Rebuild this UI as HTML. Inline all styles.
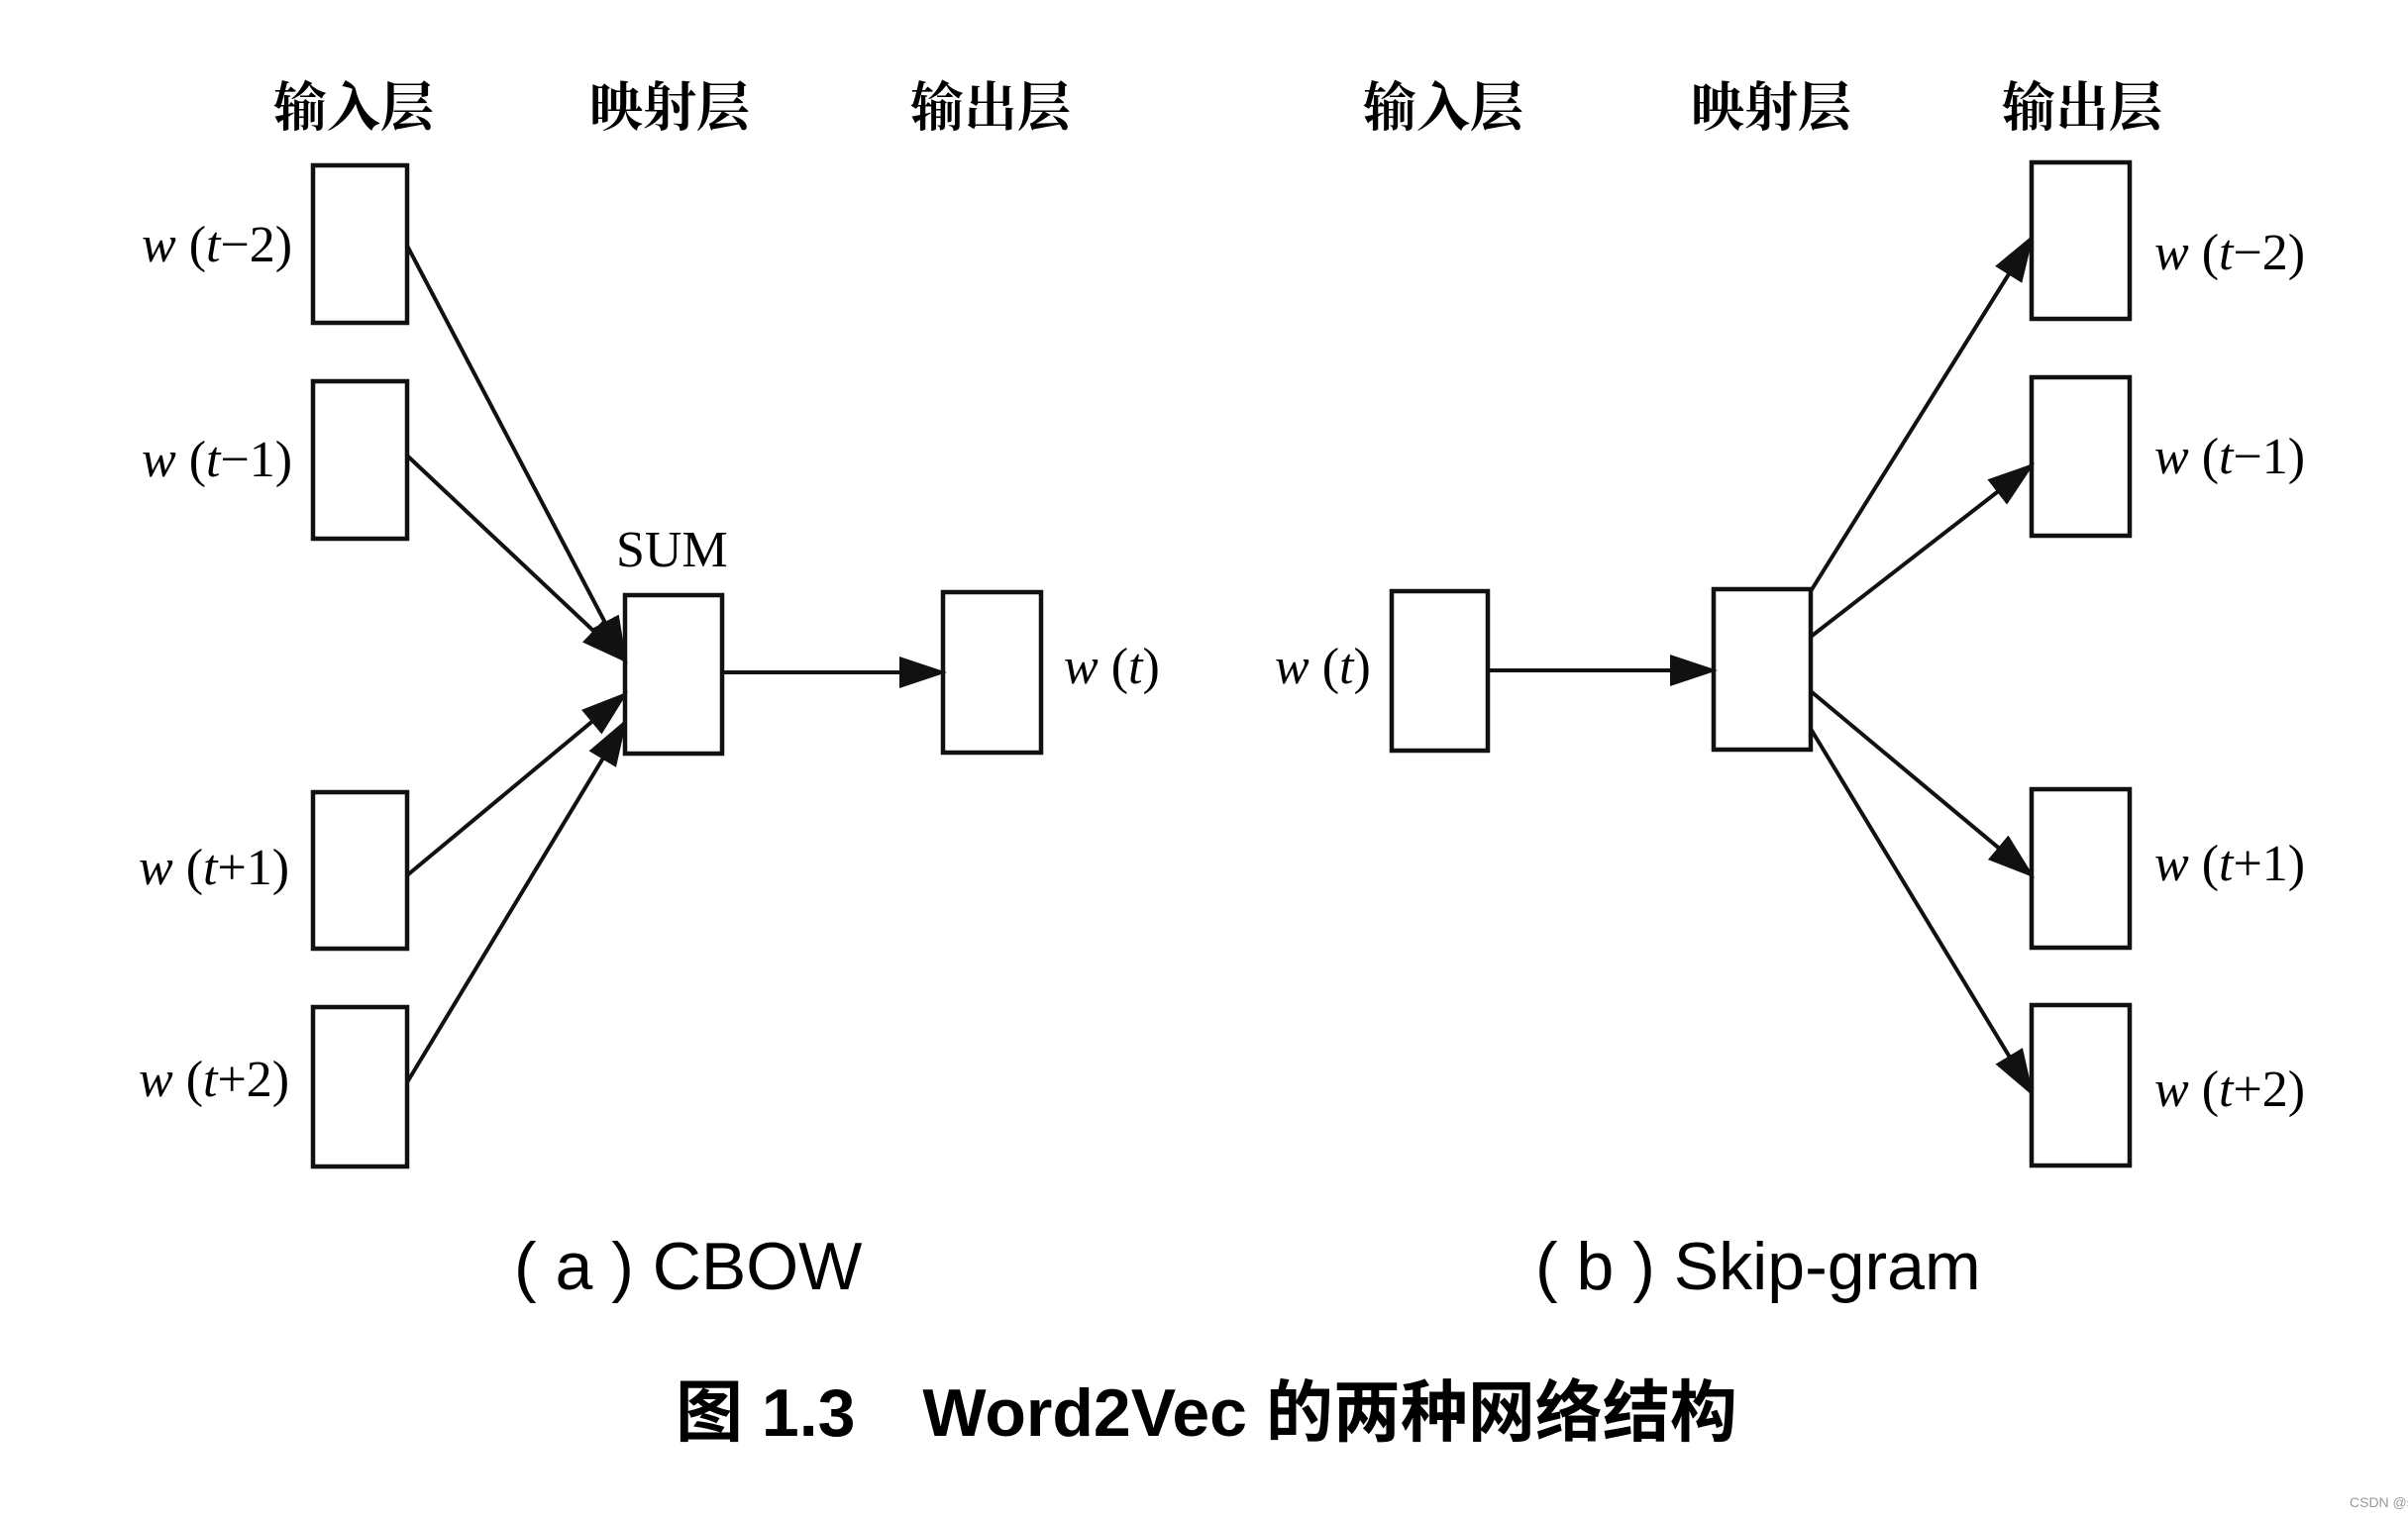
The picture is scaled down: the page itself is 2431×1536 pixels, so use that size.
<!DOCTYPE html>
<html><head><meta charset="utf-8"><style>
html,body{margin:0;padding:0;background:#fff;}
svg{display:block;}
.h{font-family:"Liberation Serif","Noto Serif CJK SC",serif;font-weight:bold;font-size:54px;text-anchor:middle;}
.l{font-family:"Liberation Serif",serif;font-size:52px;}
.c{font-family:"Liberation Sans","Noto Sans CJK SC",sans-serif;font-size:68px;}
.t{font-family:"Liberation Sans","Noto Sans CJK SC",sans-serif;font-size:68px;font-weight:bold;}
</style></head><body>
<svg width="2431" height="1536" viewBox="0 0 2431 1536" xmlns="http://www.w3.org/2000/svg">
<defs><marker id="a" markerWidth="12" markerHeight="8" refX="11" refY="4" orient="auto" markerUnits="strokeWidth"><path d="M0,0 L12,4 L0,8 z" fill="#111"/></marker></defs>
<g class="h">
<text x="357" y="127">输入层</text><text x="676" y="127">映射层</text><text x="1000" y="127">输出层</text>
<text x="1457" y="127">输入层</text><text x="1788" y="127">映射层</text><text x="2102" y="127">输出层</text>
</g>
<g fill="none" stroke="#111" stroke-width="4.5">
<rect x="316" y="167" width="95" height="159"/><rect x="316" y="385" width="95" height="159"/>
<rect x="316" y="800" width="95" height="158"/><rect x="316" y="1017" width="95" height="161"/>
<rect x="631" y="601" width="98" height="160"/><rect x="952" y="598" width="99" height="162"/>
<rect x="1405" y="597" width="97" height="161"/><rect x="1730" y="595" width="98" height="162"/>
<rect x="2051" y="164" width="99" height="158"/><rect x="2051" y="381" width="99" height="160"/>
<rect x="2051" y="797" width="99" height="160"/><rect x="2051" y="1015" width="99" height="162"/>
</g>
<g stroke="#111" stroke-width="4" marker-end="url(#a)" fill="none">
<line x1="411" y1="248" x2="631" y2="667"/><line x1="411" y1="460" x2="631" y2="667"/>
<line x1="411" y1="884" x2="631" y2="701"/><line x1="411" y1="1093" x2="631" y2="729"/>
<line x1="729" y1="679" x2="952" y2="679"/><line x1="1502" y1="677" x2="1730" y2="677"/>
<line x1="1828" y1="597" x2="2051" y2="240"/><line x1="1828" y1="643" x2="2051" y2="470"/>
<line x1="1828" y1="698" x2="2051" y2="884"/><line x1="1828" y1="736" x2="2051" y2="1104"/>
</g>
<g class="l">
<text x="143" y="264"><tspan font-style="italic">w</tspan> (<tspan font-style="italic">t</tspan>−2)</text>
<text x="143" y="481"><tspan font-style="italic">w</tspan> (<tspan font-style="italic">t</tspan>−1)</text>
<text x="140" y="893"><tspan font-style="italic">w</tspan> (<tspan font-style="italic">t</tspan>+1)</text>
<text x="140" y="1107"><tspan font-style="italic">w</tspan> (<tspan font-style="italic">t</tspan>+2)</text>
<text x="622" y="572">SUM</text>
<text x="1074" y="690"><tspan font-style="italic">w</tspan> (<tspan font-style="italic">t</tspan>)</text>
<text x="1287" y="690"><tspan font-style="italic">w</tspan> (<tspan font-style="italic">t</tspan>)</text>
<text x="2175" y="272"><tspan font-style="italic">w</tspan> (<tspan font-style="italic">t</tspan>−2)</text>
<text x="2175" y="478"><tspan font-style="italic">w</tspan> (<tspan font-style="italic">t</tspan>−1)</text>
<text x="2175" y="889"><tspan font-style="italic">w</tspan> (<tspan font-style="italic">t</tspan>+1)</text>
<text x="2175" y="1117"><tspan font-style="italic">w</tspan> (<tspan font-style="italic">t</tspan>+2)</text>
</g>
<text class="c" x="519" y="1302">( a ) CBOW</text>
<text class="c" x="1550" y="1302">( b ) Skip-gram</text>
<text class="t" x="682" y="1450">图 1.3　Word2Vec 的两种网络结构</text>
<text x="2372" y="1522" font-family="Liberation Sans,sans-serif" font-size="14" fill="#999">CSDN @seasonsyy</text>
</svg>
</body></html>
